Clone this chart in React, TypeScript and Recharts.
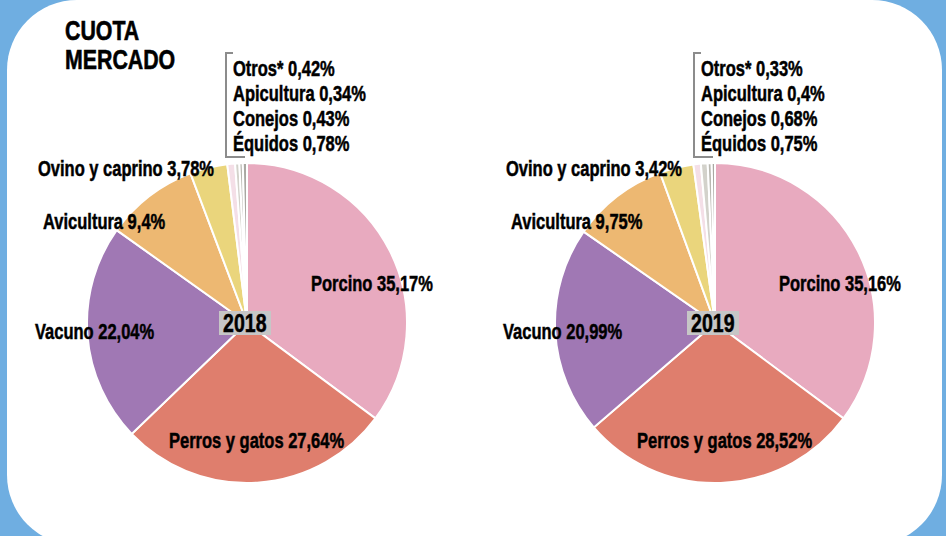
import React from 'react';
import { PieChart, Pie, Cell } from 'recharts';

const categories = ['Porcino', 'Perros y gatos', 'Vacuno', 'Avicultura', 'Ovino y caprino', 'Équidos', 'Conejos', 'Apicultura', 'Otros*'];
const values2018 = [35.17, 27.64, 22.04, 9.4, 3.78, 0.78, 0.43, 0.34, 0.42];
const values2019 = [35.16, 28.52, 20.99, 9.75, 3.42, 0.75, 0.68, 0.4, 0.33];
const colors = ['#E8AABF', '#DF7E6D', '#A078B4', '#EDB872', '#EAD57C', '#F4DFE7', '#D3D2CB', '#B9B8B1', '#A9A8A2'];
const years = ['2018', '2019'];

const FONT = "'Liberation Sans', Arial, sans-serif";
const SX = 0.75;

// label layout relative to pie centre (textAnchor start)
const labelOffsets: Record<string, { dx: number; dy: number }> = {
  'Porcino': { dx: 64, dy: -40 },
  'Perros y gatos': { dx: -78, dy: 117 },
  'Vacuno': { dx: -212, dy: 8 },
  'Avicultura': { dx: -204, dy: -102 },
  'Ovino y caprino': { dx: -209, dy: -155 },
  'Otros*': { dx: -14, dy: -255 },
  'Apicultura': { dx: -14, dy: -230 },
  'Conejos': { dx: -14, dy: -205 },
  'Équidos': { dx: -14, dy: -180 },
};

const makeData = (vals: number[]) => categories.map((name, i) => ({ name, value: vals[i] }));

const fmt = (v: number) => String(v).replace('.', ',') + '%';

const renderLabel = (props: any) => {
  const { cx, cy, name, value } = props;
  const off = labelOffsets[name];
  if (!off) return null;
  return (
    <text
      x={0}
      y={0}
      transform={`translate(${cx + off.dx},${cy + off.dy}) scale(${SX},1)`}
      textAnchor="start"
      dominantBaseline="central"
      fill="#000"
      stroke="#000"
      strokeWidth={0.5}
      style={{ fontFamily: FONT, fontWeight: 700, fontSize: 22 }}
    >
      {`${name} ${fmt(value)}`}
    </text>
  );
};

const centers = [
  { cx: 247, cy: 323 },
  { cx: 715, cy: 323 },
];

export default function App() {
  const datasets = [makeData(values2018), makeData(values2019)];
  return (
    <div style={{ position: 'absolute', left: 0, top: 0, width: 946, height: 536, overflow: 'hidden', background: '#6FAEE1' }}>
      <div style={{ position: 'absolute', left: 7, top: 0, width: 935, height: 545, background: '#fff', borderRadius: 70 }} />
      <div style={{ position: 'absolute', left: 65, top: 17, fontFamily: FONT, fontWeight: 700, fontSize: 27, lineHeight: '29px', color: '#000', transform: 'scaleX(0.79)', transformOrigin: 'left top', whiteSpace: 'nowrap', WebkitTextStroke: '0.6px #000' }}>
        CUOTA<br />MERCADO
      </div>
      <div style={{ position: 'absolute', left: 0, top: 0 }}>
        <PieChart width={946} height={536} margin={{ top: 0, right: 0, bottom: 0, left: 0 }}>
          {datasets.map((data, k) => (
            <Pie
              key={years[k]}
              data={data}
              dataKey="value"
              nameKey="name"
              cx={centers[k].cx}
              cy={centers[k].cy}
              outerRadius={160}
              startAngle={90}
              endAngle={-270}
              stroke="#fff"
              strokeWidth={2}
              label={renderLabel}
              labelLine={false}
              isAnimationActive={false}
            >
              {data.map((d, i) => (
                <Cell key={d.name} fill={colors[i]} />
              ))}
            </Pie>
          ))}
        </PieChart>
      </div>
      {centers.map((c, k) => (
        <React.Fragment key={years[k]}>
          <div style={{ position: 'absolute', left: c.cx - 22, top: c.cy - 271, width: 8, height: 106, borderLeft: '2px solid #8C8C8C', borderTop: '2px solid #8C8C8C', borderBottom: '2px solid #8C8C8C', boxSizing: 'border-box' }} />
          <div style={{ position: 'absolute', left: c.cx - 22, top: c.cy - 167, width: 20, height: 2, background: '#8C8C8C' }} />
          <div style={{ position: 'absolute', left: c.cx - 28, top: c.cy - 12, width: 52, height: 24, background: '#C6C6C6', display: 'flex', alignItems: 'center', justifyContent: 'center' }}>
            <span style={{ fontFamily: FONT, fontWeight: 700, fontSize: 25, color: '#000', transform: 'scaleX(0.78)', display: 'inline-block', lineHeight: '24px', WebkitTextStroke: '0.5px #000' }}>{years[k]}</span>
          </div>
        </React.Fragment>
      ))}
    </div>
  );
}
